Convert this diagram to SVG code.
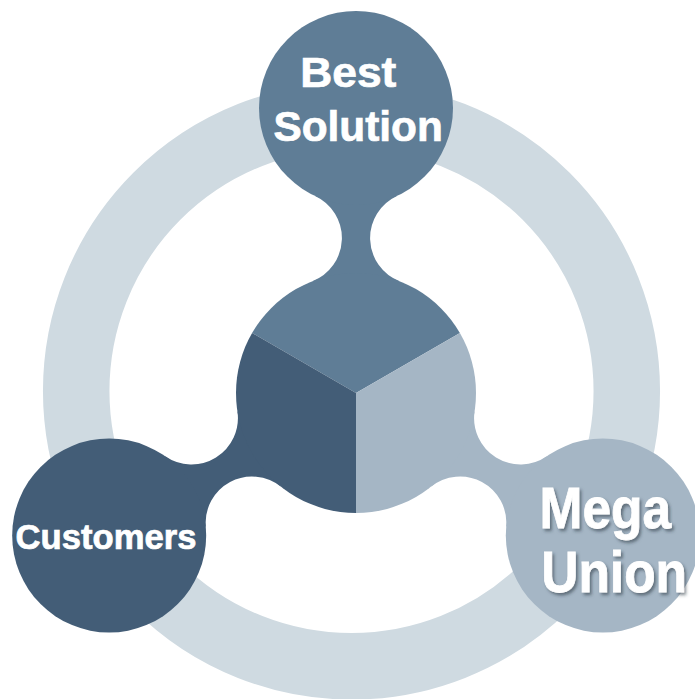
<svg xmlns="http://www.w3.org/2000/svg" width="695" height="699" viewBox="0 0 695 699">
  <defs>
    <style>
      .ring { fill: none; stroke: #cfdae1; stroke-width: 66.5; }
      .c-top { fill: #5f7d96; }
      .c-dark { fill: #435d77; }
      .c-light { fill: #a5b6c5; }
      .lbl { fill: #ffffff; stroke: #ffffff; stroke-width: 0.7; font-family: "Liberation Sans", Arial, Helvetica, sans-serif; font-weight: bold; }
    </style>
    <filter id="shadow" x="-10%" y="-20%" width="130%" height="150%">
      <feDropShadow dx="2" dy="2.5" stdDeviation="1.6" flood-color="#2a3440" flood-opacity="0.55"/>
    </filter>
    <path id="neck" d="M 315.07,195.94 A 46.39 46.39 0 0 1 312.37,281.22 L 399.63,281.22 A 46.39 46.39 0 0 1 396.93,195.94 Z"/>
  </defs>

  <!-- background ring -->
  <circle class="ring" cx="351.5" cy="391" r="275.3"/>

  <!-- connectors (necks) -->
  <g id="connectors">
    <use href="#neck" class="c-top"/>
    <use href="#neck" class="c-dark" transform="rotate(-120 356 393)"/>
    <use href="#neck" class="c-light" transform="rotate(120 356 393)"/>
  </g>

  <!-- central hub (cube) -->
  <g id="hub">
    <path class="c-top" d="M 356,393 L 252.08,333 A 120 120 0 0 1 459.92,333 Z"/>
    <path class="c-dark" d="M 356,393 L 356,513 A 120 120 0 0 1 252.08,333 Z"/>
    <path class="c-light" d="M 356,393 L 459.92,333 A 120 120 0 0 1 356,513 Z"/>
  </g>

  <g id="node-best-solution">
    <circle class="c-top" cx="356" cy="108" r="97"/>
    <text class="lbl" x="300.3" y="86.7" font-size="42" textLength="96" lengthAdjust="spacingAndGlyphs">Best</text>
    <text class="lbl" x="273.4" y="140.7" font-size="42" textLength="169.5" lengthAdjust="spacingAndGlyphs">Solution</text>
  </g>

  <g id="node-customers">
    <circle class="c-dark" cx="109.18" cy="535.5" r="97"/>
    <text class="lbl" x="15.6" y="549" font-size="34.5" textLength="181" lengthAdjust="spacingAndGlyphs">Customers</text>
  </g>

  <g id="node-mega-union">
    <circle class="c-light" cx="602.82" cy="535.5" r="97"/>
    <g filter="url(#shadow)">
      <text class="lbl" x="0" y="0" font-size="51.5" transform="translate(539.5 528.3) scale(1 1.13)">Mega</text>
      <text class="lbl" x="0" y="0" font-size="51.5" transform="translate(541.2 591.7) scale(1 1.13)">Union</text>
    </g>
  </g>
</svg>
